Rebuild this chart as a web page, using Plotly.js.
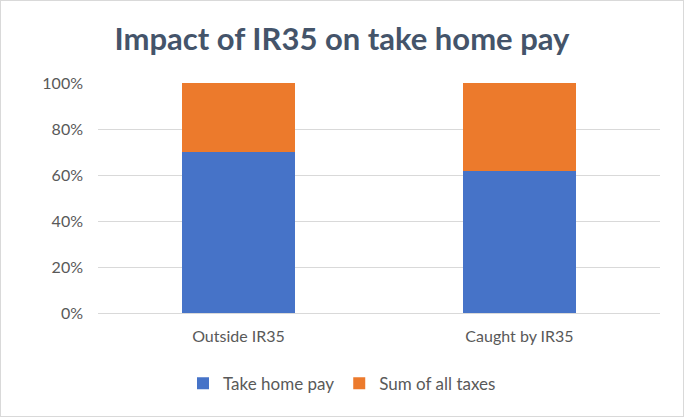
<!DOCTYPE html>
<html>
<head>
<meta charset="utf-8">
<script src="https://cdn.plot.ly/plotly-3.0.1.min.js"></script>
<style>
  body { margin: 0; background: #fff; }
  #chart { width: 684px; height: 417px; box-sizing: border-box; border: 1px solid #d9d9d9; }
</style>
</head>
<body>
<div id="chart"></div>
<script>
const categories = ["Outside IR35", "Caught by IR35"];
const takeHome = [0.70, 0.617];
const taxes = [0.30, 0.383];

const FONT = "Lato, 'Open Sans', sans-serif";

const traces = [
    {
        x: categories,
        y: takeHome,
        type: "bar",
        name: "Take home pay",
        marker: { color: "rgb(70, 115, 200)" },
        hoverinfo: "none"
    },
    {
        x: categories,
        y: taxes,
        type: "bar",
        name: "Sum of all taxes",
        marker: { color: "rgb(236, 122, 44)" },
        hoverinfo: "none"
    }
];

Plotly.newPlot("chart", traces, {
    width: 682,
    height: 415,
    barmode: "stack",
    bargap: 0.6,
    plot_bgcolor: "#fff",
    paper_bgcolor: "#fff",
    font: { family: FONT, color: "#595959", size: 16 },
    margin: { l: 97, r: 23, t: 82, b: 103 },
    title: {
        text: "<b>Impact of IR35 on take home pay</b>",
        font: { family: FONT, size: 31, color: "#44546a" },
        x: 0.5,
        xanchor: "center",
        xref: "container",
        y: 0.908,
        yanchor: "middle",
        yref: "container"
    },
    xaxis: {
        showgrid: false,
        showline: false,
        ticks: "",
        ticklabelstandoff: 12,
        tickfont: { family: FONT, size: 16, color: "#595959" }
    },
    yaxis: {
        range: [0, 1],
        dtick: 0.2,
        tickformat: ".0%",
        showgrid: true,
        gridcolor: "#d9d9d9",
        gridwidth: 1,
        zeroline: true,
        zerolinecolor: "#d9d9d9",
        ticks: "",
        ticklabelstandoff: 14,
        tickfont: { family: FONT, size: 16, color: "#595959" },
        fixedrange: true
    },
    showlegend: true,
    legend: {
        orientation: "h",
        xref: "container",
        yref: "container",
        x: 0.5,
        xanchor: "center",
        y: 0.078,
        yanchor: "middle",
        font: { family: FONT, size: 17, color: "#595959" },
        traceorder: "normal"
    }
}, {
    displayModeBar: false,
    staticPlot: true
});
</script>
</body>
</html>
